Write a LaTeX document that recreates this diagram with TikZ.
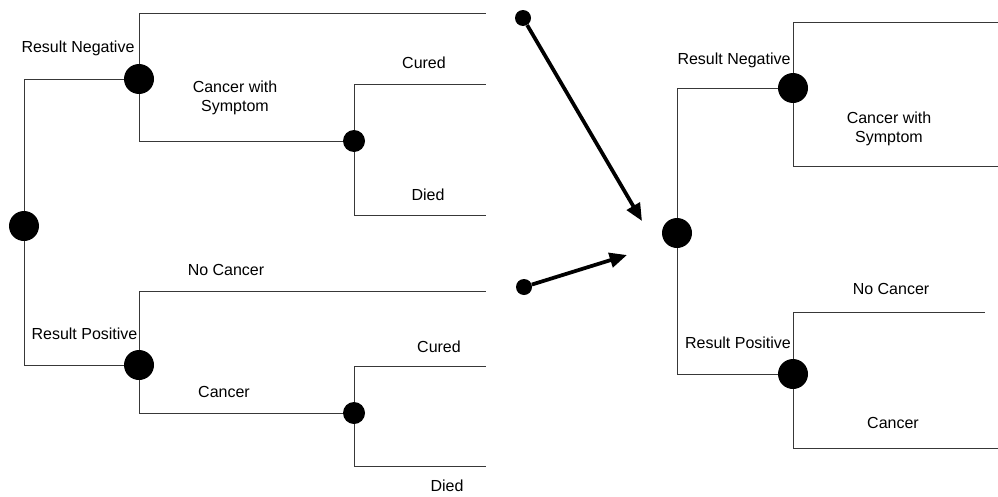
\documentclass[tikz,border=0pt]{standalone}
\usepackage{fontspec}
\setmainfont{Liberation Sans}
\usetikzlibrary{arrows.meta}
\tikzset{
  decision/.style={circle,fill=black,draw=none,inner sep=0pt,minimum size=22.5pt},
  chance/.style={circle,fill=black,draw=none,inner sep=0pt,minimum size=16.5pt},
  startdot/.style={circle,fill=black,draw=none,inner sep=0pt,minimum size=12pt},
  branch/.style={draw=black!78,line width=0.75pt},
  lbl/.style={anchor=base,inner sep=0pt,align=center,font=\fontsize{12}{14.25}\selectfont},
  bigarrow/.style={line width=2.8pt,-{Triangle[length=13pt,width=11pt]}}
}
\begin{document}
\begin{tikzpicture}[x=0.75pt,y=-0.75pt]
\useasboundingbox (0,0) rectangle (998,496);

% ---------- full tree ----------
\node[decision] (root) at (24,226) {};
\node[decision] (neg) at (139,79) {};
\node[decision] (pos) at (139,365) {};
\node[chance] (symp) at (354,141) {};
\node[chance] (canc) at (354,413) {};
\coordinate (negEnd) at (486,13);
\coordinate (sympCured) at (486,84);
\coordinate (sympDied) at (486,215);
\coordinate (noCancEnd) at (486,291);
\coordinate (cancCured) at (486,366);
\coordinate (cancDied) at (486,466);

\draw[branch] (root) |- (neg);
\draw[branch] (root) |- (pos);
\draw[branch] (neg) |- (negEnd);
\draw[branch] (neg) |- (symp);
\draw[branch] (symp) |- (sympCured);
\draw[branch] (symp) |- (sympDied);
\draw[branch] (pos) |- (noCancEnd);
\draw[branch] (pos) |- (canc);
\draw[branch] (canc) |- (cancCured);
\draw[branch] (canc) |- (cancDied);

\node[lbl] (tNeg) at (78,52.7) {Result Negative};
\node[lbl] (tSymp) at (235,111.7) {Cancer with\\Symptom};
\node[lbl] (tCured1) at (424,68.7) {Cured};
\node[lbl] (tDied1) at (428,200.7) {Died};
\node[lbl] (tNoC) at (226,275.7) {No Cancer};
\node[lbl] (tPos) at (84.5,339.7) {Result Positive};
\node[lbl] (tCanc) at (224,397.7) {Cancer};
\node[lbl] (tCured2) at (439,352.7) {Cured};
\node[lbl] (tDied2) at (447,491.7) {Died};

% ---------- arrows ----------
\node[startdot] (a1) at (523,18) {};
\node[startdot] (a2) at (524,287) {};
\coordinate (a1tip) at (642,221);
\coordinate (a2tip) at (627,255);
\draw[bigarrow] (a1) -- (a1tip);
\draw[bigarrow] (a2) -- (a2tip);

% ---------- reduced tree ----------
\node[decision] (rroot) at (677,233) {};
\node[decision] (rneg) at (793,88) {};
\node[decision] (rpos) at (793,374) {};
\coordinate (rnegTop) at (998,22);
\coordinate (rnegBot) at (998,166);
\coordinate (rposTop) at (985,312);
\coordinate (rposBot) at (998,448);

\draw[branch] (rroot) |- (rneg);
\draw[branch] (rroot) |- (rpos);
\draw[branch] (rneg) |- (rnegTop);
\draw[branch] (rneg) |- (rnegBot);
\draw[branch] (rpos) |- (rposTop);
\draw[branch] (rpos) |- (rposBot);

\node[lbl] (rtNeg) at (734,64.7) {Result Negative};
\node[lbl] (rtSymp) at (889,142.7) {Cancer with\\Symptom};
\node[lbl] (rtNoC) at (891,294.7) {No Cancer};
\node[lbl] (rtPos) at (738,348.7) {Result Positive};
\node[lbl] (rtCanc) at (893,428.7) {Cancer};
\end{tikzpicture}
\end{document}
